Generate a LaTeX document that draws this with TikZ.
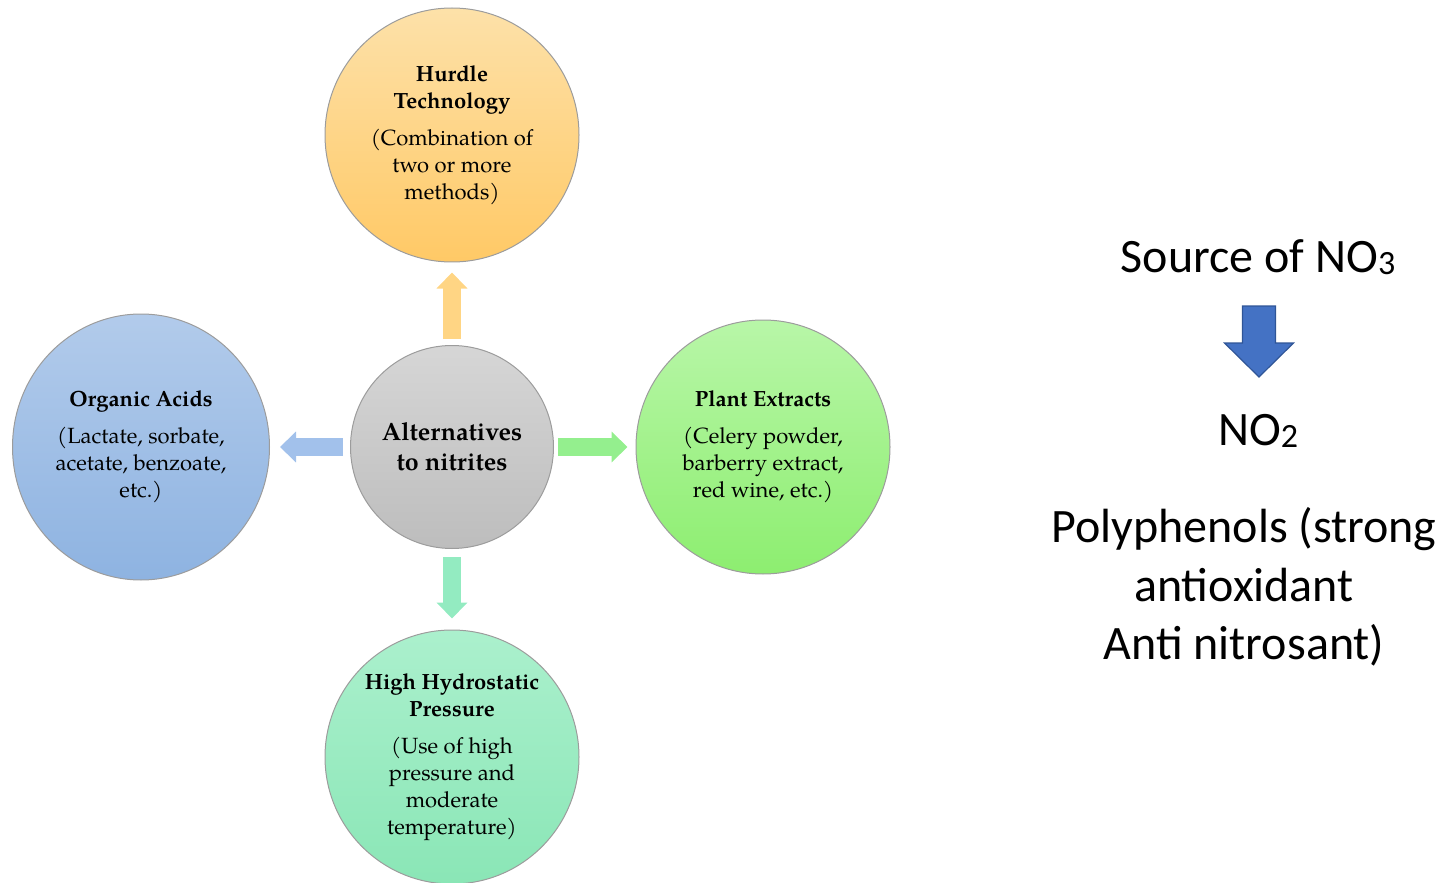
\documentclass[tikz,border=0pt]{standalone}
\usepackage{fontspec}
\setmainfont{TeX Gyre Pagella}
\newfontfamily\calibri{Carlito}
\usetikzlibrary{arrows.meta,shapes.geometric}
\definecolor{rimgray}{HTML}{9C9C9C}
\definecolor{hurdletop}{HTML}{FDE1A9}
\definecolor{hurdlebot}{HTML}{FFC966}
\definecolor{hubtop}{HTML}{D6D6D6}
\definecolor{hubbot}{HTML}{BDBDBD}
\definecolor{acidtop}{HTML}{B2CBEB}
\definecolor{acidbot}{HTML}{8EB3E1}
\definecolor{planttop}{HTML}{B8F6A8}
\definecolor{plantbot}{HTML}{8DEE70}
\definecolor{hhptop}{HTML}{ABF0CD}
\definecolor{hhpbot}{HTML}{8AE6B6}
\definecolor{arrorange}{HTML}{FFD584}
\definecolor{arrgreen}{HTML}{94EF8E}
\definecolor{arrblue}{HTML}{A2C1EB}
\definecolor{arrteal}{HTML}{93EBC1}
\definecolor{nitblue}{HTML}{4472C4}
\definecolor{nitedge}{HTML}{2F5597}
\tikzstyle{bubble}=[circle, draw=rimgray, line width=0.5pt, minimum size=127pt, inner sep=0pt, align=center, font=\fontsize{11}{13.5}\selectfont]
\tikzstyle{hub}=[bubble, minimum size=101.5pt, top color=hubtop, bottom color=hubbot, font=\fontsize{12.5}{15}\selectfont]
\tikzstyle{flow}=[line width=9pt, -{Triangle[length=8pt, width=15pt]}]
\tikzstyle{side}=[font=\calibri\fontsize{24}{29.25}\selectfont, align=center]
\newcommand{\lowdig}[1]{\raisebox{-1pt}{\fontsize{17}{17}\selectfont #1}}

\begin{document}
\begin{tikzpicture}[x=0.5pt, y=-0.5pt]
\useasboundingbox (0,0) rectangle (1453,883);
% centre and the four alternatives
\node[hub] (alt) at (452,447) {\textbf{Alternatives}\\\textbf{to nitrites}};
\node[bubble, top color=hurdletop, bottom color=hurdlebot] (hurdle) at (452,135)
    {\textbf{Hurdle}\\\textbf{Technology}\\[5pt](Combination of\\two or more\\methods)};
\node[bubble, ellipse, minimum width=128.5pt, minimum height=133pt, top color=acidtop, bottom color=acidbot] (acids) at (141,447)
    {\textbf{Organic Acids}\\[5pt](Lactate, sorbate,\\acetate, benzoate,\\etc.)};
\node[bubble, top color=planttop, bottom color=plantbot] (plant) at (763,447)
    {\textbf{Plant Extracts}\\[5pt](Celery powder,\\barberry extract,\\red wine, etc.)};
\node[bubble, top color=hhptop, bottom color=hhpbot] (hhp) at (452,757)
    {\textbf{High Hydrostatic}\\\textbf{Pressure}\\[5pt](Use of high\\pressure and\\moderate\\temperature)};
\draw[flow, arrorange, shorten <=3pt, shorten >=5pt] (alt.north) -- (hurdle.south);
\draw[flow, arrgreen, shorten <=2pt, shorten >=4pt] (alt.east) -- (plant.west);
\draw[flow, arrblue, shorten <=3.5pt, shorten >=5pt] (alt.west) -- (acids.east);
\draw[flow, arrteal, shorten <=4pt, shorten >=5.5pt] (alt.south) -- (hhp.north);
% nitrate side
\node[side, anchor=base] (no3) at (1258,272) {Source of NO\lowdig{3}};
\node[side, anchor=base] (no2) at (1258,445) {NO\lowdig{2}};
\node[side] (poly) at (1244,587) {Polyphenols (strong\\antioxidant\\Anti nitrosant)};
\coordinate (dn) at (1259,306);
\draw[fill=nitblue, draw=nitedge, line width=0.6pt] (dn) ++(-16.5,0) -- ++(33,0) -- ++(0,37) -- ++(18,0)
    -- ++(-34.5,34) -- ++(-34.5,-34) -- ++(18,0) -- cycle;
\end{tikzpicture}
\end{document}
